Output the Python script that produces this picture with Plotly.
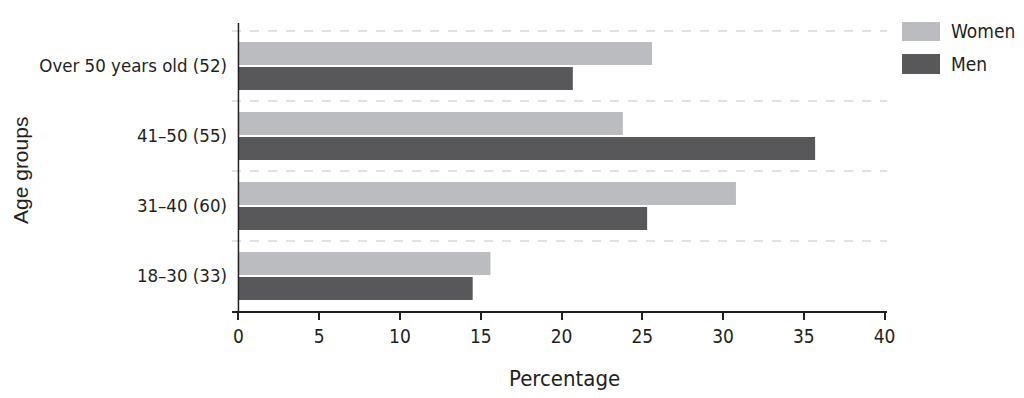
import plotly.graph_objects as go

categories = ["18–30 (33)", "31–40 (60)", "41–50 (55)", "Over 50 years old (52)"]
women = [15.6, 30.8, 23.8, 25.6]
men = [14.5, 25.3, 35.7, 20.7]
series_names = ["Women", "Men"]
series_colors = ["#bbbcbf", "#58585a"]
x_ticks = [0, 5, 10, 15, 20, 25, 30, 35, 40]

FONT = "DejaVu Sans Condensed, Liberation Sans Narrow, Roboto, sans-serif"
TXT = "#231f20"

# page body has an 8px margin: plot area spans screen x 232..887, y 23..311
PL, PR, PT, PB = 232, 887, 23, 311
PW, PH = PR - PL, PB - PT


def px(x):
    return (x - PL) / PW


def py(y):
    return (PB - y) / PH


fig = go.Figure()
fig.add_trace(go.Bar(y=categories, x=men, name=series_names[1], orientation="h",
                     marker=dict(color=series_colors[1], line=dict(width=0))))
fig.add_trace(go.Bar(y=categories, x=women, name=series_names[0], orientation="h",
                     marker=dict(color=series_colors[0], line=dict(width=0))))

shapes = []
for i in range(len(categories)):
    shapes.append(dict(type="line", xref="paper", yref="y", x0=0, x1=1,
                       y0=i + 0.5, y1=i + 0.5,
                       line=dict(color="#c4c4c4", width=1, dash="dash"), layer="below"))
shapes.append(dict(type="line", xref="x", yref="paper", x0=0, x1=0, y0=0, y1=1,
                   line=dict(color=TXT, width=1.5)))

annotations = []
for name, col, yy in zip(series_names, series_colors, [[22, 41], [54, 74]]):
    shapes.append(dict(type="rect", xref="paper", yref="paper",
                       x0=px(902), x1=px(940), y0=py(yy[1]), y1=py(yy[0]),
                       fillcolor=col, line=dict(width=0)))
    annotations.append(dict(xref="paper", yref="paper", x=px(949),
                            y=py((yy[0] + yy[1]) / 2), text=name,
                            showarrow=False, xanchor="left", yanchor="middle",
                            font=dict(family=FONT, size=19, color=TXT)))

annotations.append(dict(xref="paper", yref="paper", x=px(20), y=py(171),
                        text="Age groups", textangle=-90,
                        showarrow=False, xanchor="center", yanchor="middle",
                        font=dict(family="Liberation Sans, Arial, sans-serif", size=21, color=TXT)))
annotations.append(dict(xref="paper", yref="paper", x=px(564), y=py(378),
                        text="Percentage",
                        showarrow=False, xanchor="center", yanchor="middle",
                        font=dict(family=FONT, size=22, color=TXT)))

fig.update_layout(
    width=1016, height=390,
    margin=dict(l=PL - 8, r=1024 - PR, t=PT - 8, b=398 - PB, autoexpand=False),
    paper_bgcolor="white", plot_bgcolor="white",
    barmode="group", bargap=0.286, bargroupgap=0.08,
    showlegend=False,
    font=dict(family=FONT, size=19, color=TXT),
    xaxis=dict(range=[-0.4, 40.15], tickvals=x_ticks, showgrid=False, zeroline=False,
               showline=True, linecolor=TXT, linewidth=1.5,
               ticks="outside", ticklen=7, tickwidth=1.5, tickcolor=TXT,
               tickfont=dict(family=FONT, size=19, color=TXT), automargin=False),
    yaxis=dict(type="category", categoryarray=categories, categoryorder="array",
               range=[-0.5, 3.614], showgrid=False, zeroline=False, showline=False,
               ticks="", ticklabelstandoff=4, automargin=False,
               tickfont=dict(family=FONT, size=18.5, color=TXT)),
    shapes=shapes, annotations=annotations,
)

fig.write_html("out.html")
